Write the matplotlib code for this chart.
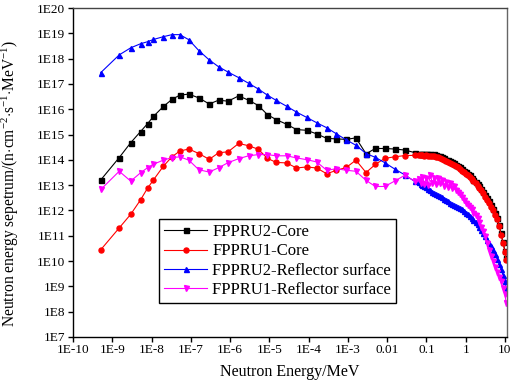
import matplotlib
matplotlib.use('Agg')
import matplotlib.pyplot as plt

plt.rcParams['font.family'] = 'Liberation Serif'
plt.rcParams['mathtext.fontset'] = 'custom'
plt.rcParams['mathtext.rm'] = 'Liberation Serif'
plt.rcParams['mathtext.it'] = 'Liberation Serif:italic'

# group energies (MeV), sparse part then the dense fast part
e_groups = [5.1e-10, 1.5e-9, 2.95e-9, 5.25e-9, 7.9e-9, 1.12e-8, 2.0e-8, 3.3e-8, 5.25e-8,
            8.9e-8, 1.6e-7, 2.95e-7, 5.1e-7, 8.9e-7, 1.66e-6, 2.95e-6, 5.25e-6, 8.9e-6,
            1.5e-5, 2.75e-5, 4.9e-5, 8.9e-5, 1.6e-4, 2.9e-4, 5.1e-4, 9.1e-4, 1.6e-3,
            2.9e-3, 5.0e-3, 8.7e-3, 1.55e-2, 2.8e-2, 5.0e-2]
e_fast = [0.063, 0.071, 0.079, 0.089, 0.1, 0.112, 0.126, 0.141, 0.158, 0.178, 0.2, 0.224,
          0.251, 0.282, 0.316, 0.355, 0.398, 0.447, 0.501, 0.562, 0.631, 0.708, 0.794, 0.891,
          1.0, 1.12, 1.26, 1.41, 1.58, 1.78, 2.0, 2.24, 2.51, 2.82, 3.16, 3.55, 3.98, 4.47,
          5.01, 5.62, 6.31, 7.08, 7.94, 8.91, 10.0, 10.7]

core2 = [1.62e13, 1.23e14, 4.79e14, 1.32e15, 2.69e15, 5.25e15, 1.29e16, 2.45e16, 3.63e16,
         3.98e16, 2.82e16, 1.62e16, 2.29e16, 2.09e16, 3.39e16, 2.29e16, 1.41e16, 6.17e15,
         3.89e15, 2.57e15, 1.58e15, 1.48e15, 1.07e15, 7.08e14, 6.76e14, 6.46e14, 7.41e14,
         1.74e14, 2.82e14, 2.82e14, 2.69e14, 2.45e14, 1.95e14,
         1.78e14, 1.74e14, 1.78e14, 1.70e14, 1.74e14, 1.66e14, 1.70e14, 1.62e14, 1.66e14,
         1.51e14, 1.45e14, 1.38e14, 1.26e14, 1.15e14, 1.02e14, 9.55e13, 8.71e13, 7.94e13,
         7.24e13, 6.46e13, 5.75e13, 5.01e13, 4.37e13, 3.80e13, 3.24e13, 2.88e13, 2.45e13,
         2.0e13, 1.62e13, 1.35e13, 1.10e13, 8.91e12, 7.24e12, 5.50e12, 4.07e12, 3.09e12,
         2.29e12, 1.62e12, 1.15e12, 7.76e11, 5.13e11, 2.75e11, 1.29e11, 5.75e10, 2.57e10,
         1.29e10]
core1 = [2.82e10, 2.04e11, 7.08e11, 2.63e12, 7.59e12, 1.62e13, 5.62e13, 1.32e14, 2.24e14,
         2.69e14, 1.78e14, 1.05e14, 1.91e14, 2.09e14, 4.47e14, 3.63e14, 2.63e14, 1.15e14,
         7.94e13, 7.59e13, 4.79e13, 5.25e13, 4.79e13, 2.82e13, 3.89e13, 5.01e13, 9.77e13,
         3.16e13, 6.61e13, 1.15e14, 1.32e14, 1.48e14, 1.51e14,
         1.55e14, 1.51e14, 1.55e14, 1.48e14, 1.51e14, 1.45e14, 1.48e14, 1.41e14, 1.45e14,
         1.32e14, 1.26e14, 1.20e14, 1.10e14, 1.0e14, 8.91e13, 8.32e13, 7.59e13, 6.92e13,
         6.31e13, 5.62e13, 5.01e13, 4.37e13, 3.80e13, 3.31e13, 2.82e13, 2.51e13, 2.14e13,
         1.74e13, 1.41e13, 1.17e13, 9.55e12, 7.76e12, 6.31e12, 4.79e12, 3.55e12, 2.69e12,
         2.0e12, 1.41e12, 1.0e12, 6.76e11, 4.47e11, 2.40e11, 1.12e11, 5.01e10, 2.24e10,
         1.12e10]
refl2 = [2.82e17, 1.41e18, 2.69e18, 3.89e18, 4.68e18, 5.75e18, 7.41e18, 8.91e18, 8.91e18,
         5.62e18, 2.09e18, 8.91e17, 4.79e17, 2.95e17, 1.78e17, 1.07e17, 6.31e16, 3.63e16,
         2.24e16, 1.32e16, 7.76e15, 4.79e15, 2.95e15, 1.86e15, 1.07e15, 6.17e14, 3.80e14,
         1.78e14, 1.26e14, 7.76e13, 4.37e13, 2.57e13, 1.41e13,
         1.32e13, 1.12e13, 1.0e13, 9.12e12, 8.32e12, 7.08e12, 6.17e12, 5.50e12, 5.01e12,
         4.57e12, 4.17e12, 3.72e12, 3.31e12, 2.95e12, 2.63e12, 2.29e12, 2.0e12, 1.82e12,
         1.66e12, 1.51e12, 1.41e12, 1.26e12, 1.12e12, 9.33e11, 7.94e11, 7.08e11, 6.31e11,
         5.25e11, 4.27e11, 3.47e11, 2.82e11, 2.19e11, 1.66e11, 1.26e11, 9.55e10, 6.92e10,
         5.01e10, 3.80e10, 2.82e10, 1.91e10, 1.26e10, 7.94e9, 5.01e9, 2.82e9, 1.58e9,
         8.91e8]
refl1 = [6.76e12, 3.55e13, 1.45e13, 3.09e13, 4.90e13, 6.76e13, 9.77e13, 1.23e14, 1.32e14,
         9.77e13, 4.07e13, 3.31e13, 4.90e13, 7.76e13, 1.12e14, 1.45e14, 1.62e14, 1.62e14,
         1.45e14, 1.45e14, 1.20e14, 1.02e14, 8.32e13, 3.89e13, 4.47e13, 3.89e13, 3.55e13,
         1.55e13, 8.91e12, 8.91e12, 1.45e13, 2.45e13, 1.45e13,
         1.78e13, 1.26e13, 2.09e13, 1.12e13, 2.0e13, 1.05e13, 2.45e13, 1.26e13, 1.91e13,
         1.12e13, 2.0e13, 1.20e13, 1.55e13, 9.55e12, 1.32e13, 8.32e12, 1.20e13, 7.94e12,
         8.91e12, 6.61e12, 5.62e12, 4.57e12, 3.55e12, 2.63e12, 2.0e12, 1.66e12, 1.41e12,
         1.10e12, 8.32e11, 6.46e11, 5.01e11, 3.39e11, 2.24e11, 1.51e11, 1.0e11, 5.25e10,
         2.63e10, 1.58e10, 1.0e10, 6.03e9, 3.55e9, 2.40e9, 1.58e9, 8.91e8, 5.01e8,
         2.24e8]

labels = ['FPPRU2-Core', 'FPPRU1-Core', 'FPPRU2-Reflector surface', 'FPPRU1-Reflector surface']
colors = ['black', '#ff0000', '#0000ff', '#ff00ff']
markers = ['s', 'o', '^', 'v']

x_ticks = [1e-10, 1e-9, 1e-8, 1e-7, 1e-6, 1e-5, 1e-4, 1e-3, 1e-2, 1e-1, 1, 10]
x_labels = ['1E-10', '1E-9', '1E-8', '1E-7', '1E-6', '1E-5', '1E-4', '1E-3', '0.01', '0.1', '1', '10']
y_ticks = [10.0 ** k for k in range(7, 21)]
y_labels = ['1E%d' % k for k in range(7, 21)]

energy = e_groups + e_fast

fig = plt.figure(figsize=(5.12, 3.85), dpi=100)
ax = fig.add_axes([0.1426, 0.1247, 0.8474, 0.8543])

for ys, c, m, lab in zip([core2, core1, refl2, refl1], colors, markers, labels):
    ax.plot(energy, ys, color=c, marker=m, markersize=3.6, linewidth=0.8, label=lab)

ax.set_xscale('log')
ax.set_yscale('log')
ax.set_xlim(1e-10, 11.2)
ax.set_ylim(1e7, 1e20)
ax.set_xticks(x_ticks)
ax.set_xticklabels(x_labels)
ax.set_yticks(y_ticks)
ax.set_yticklabels(y_labels)
ax.yaxis.set_minor_locator(matplotlib.ticker.NullLocator())
ax.tick_params(axis='both', which='major', labelsize=9.5, length=3.5, width=1, direction='out')
ax.tick_params(axis='x', which='minor', length=2, width=0.8, direction='out')
ax.tick_params(axis='x', pad=1.5)
ax.tick_params(axis='y', pad=2)

for s in ax.spines.values():
    s.set_linewidth(1.0)
ax.spines['right'].set_color('#666666')
ax.spines['top'].set_color('#444444')

ax.set_xlabel('Neutron Energy/MeV', fontsize=11.5, labelpad=6)
ax.set_ylabel(r'Neutron energy sepetrum/(n$\cdot$cm$^{-2}$$\cdot$s$^{-1}$$\cdot$MeV$^{-1}$)',
              fontsize=11.2)
ax.yaxis.set_label_coords(-0.12, 0.468)

leg = ax.legend(loc='lower left', bbox_to_anchor=(0.198, 0.103), fontsize=12,
                fancybox=False, framealpha=1, edgecolor='black', borderpad=0.3,
                labelspacing=0.2, handlelength=2.6, handletextpad=0.3, borderaxespad=0)
leg.get_frame().set_linewidth(1.0)

fig.savefig('out.png', dpi=100)
